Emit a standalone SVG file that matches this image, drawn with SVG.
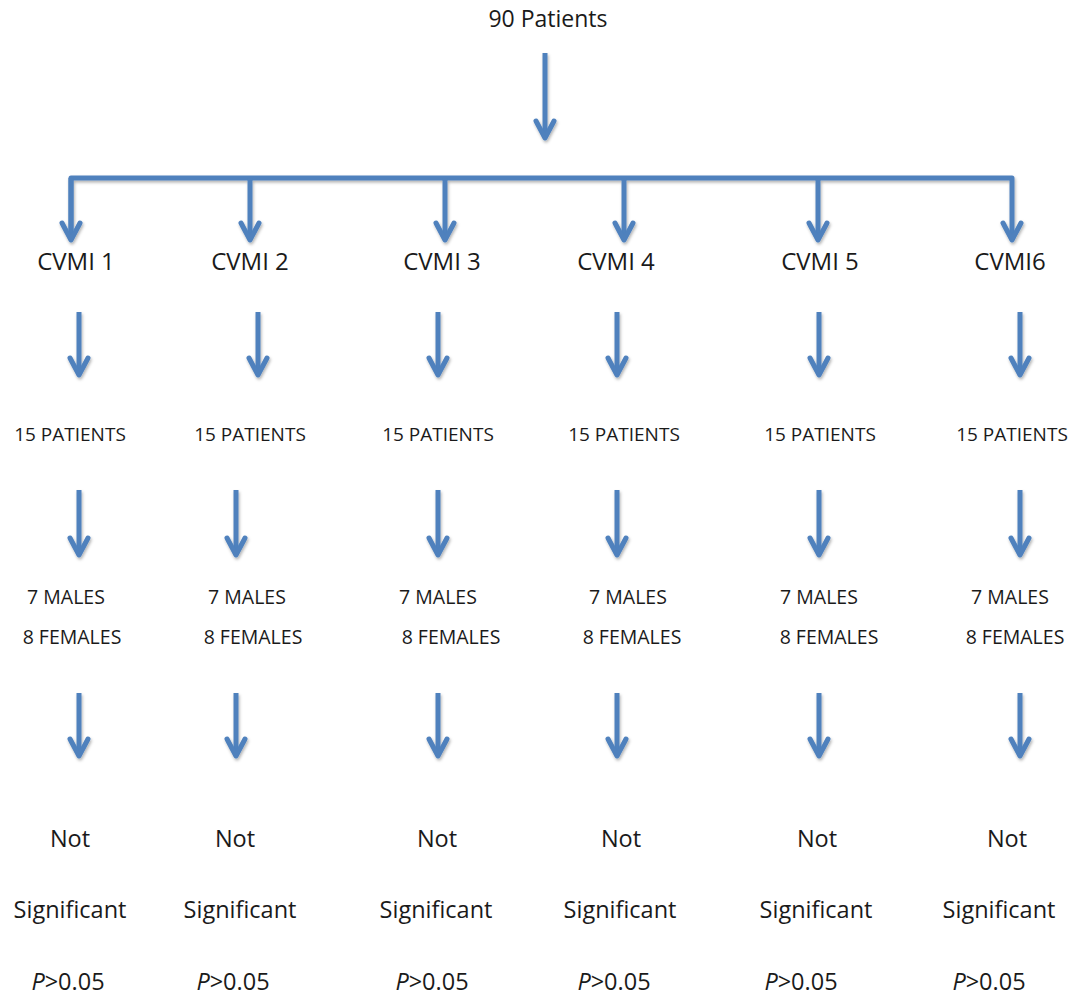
<svg xmlns="http://www.w3.org/2000/svg" width="1073" height="995" viewBox="0 0 1073 995">
<style>
text{font-family:"Open Sans","Noto Sans","Liberation Sans",sans-serif;fill:#1a1a1a;text-anchor:middle}
.t0{font-size:23px}
.cv{font-size:24px}
.sm{font-size:19px}
.sx{font-size:19.5px}
.lg{font-size:23.5px}
.ar{fill:none;stroke:#4F81BD;stroke-width:5;stroke-linejoin:round}
</style>
<defs>
<filter id="sh" x="-50%" y="-10%" width="200%" height="130%">
<feDropShadow dx="1" dy="2" stdDeviation="1.5" flood-color="#000" flood-opacity="0.3"/>
</filter>
<marker id="ah" viewBox="-22 -13 27 26" refX="0" refY="0" markerWidth="27" markerHeight="26" markerUnits="userSpaceOnUse" orient="auto">
<path d="M-17,-9 L0,0 L-17,9" fill="none" stroke="#4F81BD" stroke-width="5" stroke-linejoin="round" stroke-linecap="round"/>
</marker>
</defs>
<rect width="1073" height="995" fill="#fff"/>
<g id="connectors" filter="url(#sh)">
<path class="ar" d="M545,53 V138" marker-end="url(#ah)"/>
<path class="ar" d="M71,230 V178 H1012 V240" marker-end="url(#ah)"/>
<path class="ar" d="M71,178 V240" marker-end="url(#ah)"/>
<path class="ar" d="M250,178 V240" marker-end="url(#ah)"/>
<path class="ar" d="M445,178 V240" marker-end="url(#ah)"/>
<path class="ar" d="M624,178 V240" marker-end="url(#ah)"/>
<path class="ar" d="M818,178 V240" marker-end="url(#ah)"/>
<path class="ar" d="M79,312 V375" marker-end="url(#ah)"/>
<path class="ar" d="M258,312 V375" marker-end="url(#ah)"/>
<path class="ar" d="M438,312 V375" marker-end="url(#ah)"/>
<path class="ar" d="M617,312 V375" marker-end="url(#ah)"/>
<path class="ar" d="M819,312 V375" marker-end="url(#ah)"/>
<path class="ar" d="M1020,312 V375" marker-end="url(#ah)"/>
<path class="ar" d="M79,490 V555" marker-end="url(#ah)"/>
<path class="ar" d="M236,490 V555" marker-end="url(#ah)"/>
<path class="ar" d="M438,490 V555" marker-end="url(#ah)"/>
<path class="ar" d="M617,490 V555" marker-end="url(#ah)"/>
<path class="ar" d="M819,490 V555" marker-end="url(#ah)"/>
<path class="ar" d="M1020,490 V555" marker-end="url(#ah)"/>
<path class="ar" d="M79,693 V756" marker-end="url(#ah)"/>
<path class="ar" d="M236,693 V756" marker-end="url(#ah)"/>
<path class="ar" d="M438,693 V756" marker-end="url(#ah)"/>
<path class="ar" d="M617,693 V756" marker-end="url(#ah)"/>
<path class="ar" d="M819,693 V756" marker-end="url(#ah)"/>
<path class="ar" d="M1020,693 V756" marker-end="url(#ah)"/>
</g>
<g id="root"><text class="t0" x="548" y="27">90 Patients</text></g>
<g id="cvmi1"><text class="cv" x="76" y="270">CVMI 1</text></g>
<g id="cvmi2"><text class="cv" x="250" y="270">CVMI 2</text></g>
<g id="cvmi3"><text class="cv" x="442" y="270">CVMI 3</text></g>
<g id="cvmi4"><text class="cv" x="616" y="270">CVMI 4</text></g>
<g id="cvmi5"><text class="cv" x="820" y="270">CVMI 5</text></g>
<g id="cvmi6"><text class="cv" x="1010" y="270">CVMI6</text></g>
<g id="pat1"><text class="sm" x="70" y="441">15 PATIENTS</text></g>
<g id="pat2"><text class="sm" x="250" y="441">15 PATIENTS</text></g>
<g id="pat3"><text class="sm" x="438" y="441">15 PATIENTS</text></g>
<g id="pat4"><text class="sm" x="624" y="441">15 PATIENTS</text></g>
<g id="pat5"><text class="sm" x="820" y="441">15 PATIENTS</text></g>
<g id="pat6"><text class="sm" x="1012" y="441">15 PATIENTS</text></g>
<g id="sex1"><text class="sx" x="66" y="604">7 MALES</text><text class="sx" x="72" y="644">8 FEMALES</text></g>
<g id="sex2"><text class="sx" x="247" y="604">7 MALES</text><text class="sx" x="253" y="644">8 FEMALES</text></g>
<g id="sex3"><text class="sx" x="438" y="604">7 MALES</text><text class="sx" x="451" y="644">8 FEMALES</text></g>
<g id="sex4"><text class="sx" x="628" y="604">7 MALES</text><text class="sx" x="632" y="644">8 FEMALES</text></g>
<g id="sex5"><text class="sx" x="819" y="604">7 MALES</text><text class="sx" x="829" y="644">8 FEMALES</text></g>
<g id="sex6"><text class="sx" x="1010" y="604">7 MALES</text><text class="sx" x="1015" y="644">8 FEMALES</text></g>
<g id="res1"><text class="lg" x="70" y="847">Not</text><text class="lg" x="70" y="918">Significant</text><text class="lg" x="68" y="990"><tspan font-style="italic">P</tspan>&gt;0.05</text></g>
<g id="res2"><text class="lg" x="235" y="847">Not</text><text class="lg" x="240" y="918">Significant</text><text class="lg" x="233" y="990"><tspan font-style="italic">P</tspan>&gt;0.05</text></g>
<g id="res3"><text class="lg" x="437" y="847">Not</text><text class="lg" x="436" y="918">Significant</text><text class="lg" x="432" y="990"><tspan font-style="italic">P</tspan>&gt;0.05</text></g>
<g id="res4"><text class="lg" x="621" y="847">Not</text><text class="lg" x="620" y="918">Significant</text><text class="lg" x="614" y="990"><tspan font-style="italic">P</tspan>&gt;0.05</text></g>
<g id="res5"><text class="lg" x="817" y="847">Not</text><text class="lg" x="816" y="918">Significant</text><text class="lg" x="801" y="990"><tspan font-style="italic">P</tspan>&gt;0.05</text></g>
<g id="res6"><text class="lg" x="1007" y="847">Not</text><text class="lg" x="999" y="918">Significant</text><text class="lg" x="989" y="990"><tspan font-style="italic">P</tspan>&gt;0.05</text></g>
</svg>
